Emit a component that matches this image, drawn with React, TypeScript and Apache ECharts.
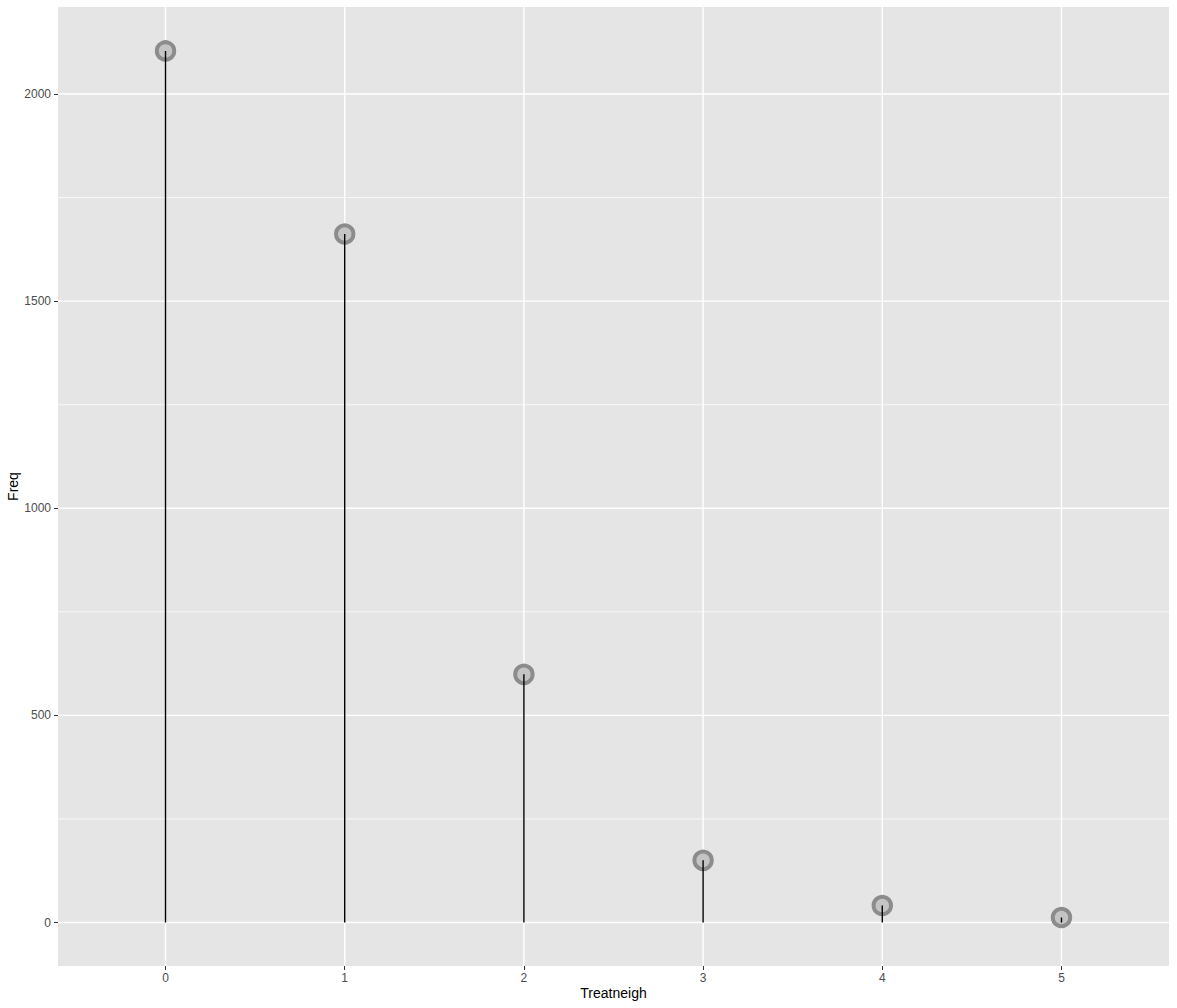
import React, { useEffect, useRef } from "react";
import * as echarts from "echarts";

const categories = [0, 1, 2, 3, 4, 5];
const freq = [2104, 1662, 599, 150, 41, 12];
const yMajor = [0, 500, 1000, 1500, 2000];
const yMinor = [250, 750, 1250, 1750];

const FONT = "Liberation Sans, Arial, Helvetica, sans-serif";

export default function App() {
  const ref = useRef<HTMLDivElement>(null);
  useEffect(() => {
    if (!ref.current) return;
    const chart = echarts.init(ref.current, null, { renderer: "svg" });
    const vGrid = (params: any, api: any) => {
      const cs = params.coordSys;
      const p = api.coord([api.value(0), 0]);
      return {
        type: "line",
        shape: { x1: p[0], y1: cs.y, x2: p[0], y2: cs.y + cs.height },
        style: { stroke: "#FFFFFF", lineWidth: 1.4 },
      };
    };
    const hGrid = (w: number) => (params: any, api: any) => {
      const cs = params.coordSys;
      const p = api.coord([0, api.value(1)]);
      return {
        type: "line",
        shape: { x1: cs.x, y1: p[1], x2: cs.x + cs.width, y2: p[1] },
        style: { stroke: "#FFFFFF", lineWidth: w },
      };
    };
    chart.setOption({
      animation: false,
      grid: {
        left: 58,
        right: 8,
        top: 7,
        bottom: 42,
        show: true,
        backgroundColor: "#E5E5E5",
        borderWidth: 0,
        containLabel: false,
        outerBoundsMode: "none",
      },
      xAxis: {
        type: "value",
        min: -0.6,
        max: 5.6,
        name: "Treatneigh",
        nameLocation: "middle",
        nameGap: 20,
        nameMoveOverlap: false,
        nameTextStyle: { fontSize: 14, color: "#000", fontFamily: FONT },
        axisLine: { show: false, onZero: false },
        splitLine: { show: false },
        axisTick: {
          show: true,
          customValues: categories,
          length: 4,
          lineStyle: { color: "#333333", width: 1 },
        },
        axisLabel: {
          customValues: categories,
          formatter: (v: number) => String(v),
          fontSize: 12,
          color: "#4D4D4D",
          margin: 6,
          fontFamily: FONT,
        },
      },
      yAxis: {
        type: "value",
        min: -105,
        max: 2210,
        name: "Freq",
        nameLocation: "middle",
        nameGap: 38,
        nameMoveOverlap: false,
        nameTextStyle: { fontSize: 14, color: "#000", fontFamily: FONT },
        axisLine: { show: false, onZero: false },
        splitLine: { show: false },
        axisTick: {
          show: true,
          customValues: yMajor,
          length: 4,
          lineStyle: { color: "#333333", width: 1 },
        },
        axisLabel: {
          customValues: yMajor,
          formatter: (v: number) => String(v),
          fontSize: 12,
          color: "#4D4D4D",
          margin: 7,
          fontFamily: FONT,
        },
      },
      series: [
        {
          type: "custom",
          silent: true,
          z: 1,
          renderItem: hGrid(0.7),
          data: yMinor.map((v) => [0, v]),
        },
        {
          type: "custom",
          silent: true,
          z: 1,
          renderItem: hGrid(1.4),
          data: yMajor.map((v) => [0, v]),
        },
        {
          type: "custom",
          silent: true,
          z: 1,
          renderItem: vGrid,
          data: categories.map((c) => [c, 0]),
        },
        {
          type: "custom",
          z: 5,
          renderItem: (params: any, api: any) => {
            const x = api.value(0);
            const y = api.value(1);
            const p = api.coord([x, y]);
            const b = api.coord([x, 0]);
            return {
              type: "group",
              children: [
                {
                  type: "circle",
                  shape: { cx: p[0], cy: p[1], r: 8.7 },
                  style: { fill: "#C4C4C4", stroke: "#8C8C8C", lineWidth: 4 },
                },
                {
                  type: "line",
                  shape: { x1: p[0], y1: p[1], x2: b[0], y2: b[1] },
                  style: { stroke: "#000000", lineWidth: 1.4 },
                },
              ],
            };
          },
          data: categories.map((c, i) => [c, freq[i]]),
        },
      ],
    });
    return () => chart.dispose();
  }, []);
  return <div ref={ref} style={{ width: 1177, height: 1008, position: "absolute", left: 0, top: 0 }} />;
}
